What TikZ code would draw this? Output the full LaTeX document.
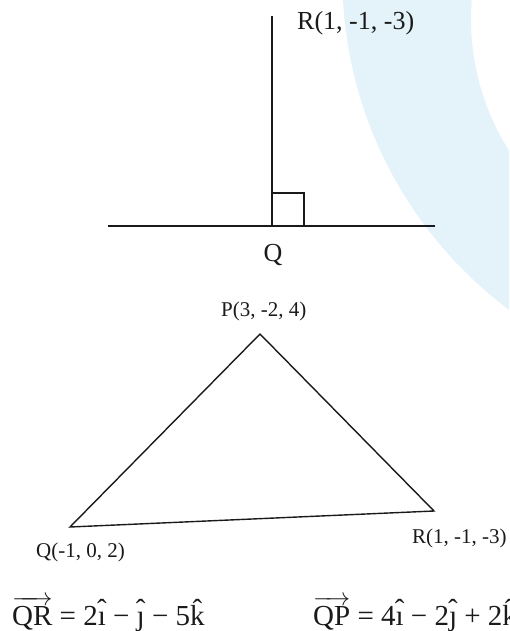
\documentclass[tikz,border=0pt]{standalone}
\usepackage{amsmath}
\usepackage{fontspec}
\setmainfont{Liberation Serif}
\usepackage{tikz}
\usetikzlibrary{positioning}
\definecolor{WashBlue}{HTML}{E4F2FA}
\definecolor{InkBlack}{HTML}{1A1A1A}
% unit vector with a hat at one height
\newcommand{\uvec}[1]{\ooalign{#1\cr\hidewidth\raisebox{0.2em}{ˆ}\hidewidth\cr}}
\newcommand{\vecof}[1]{$\overrightarrow{\text{#1}}$}
\tikzset{
  % Label of the right-angle sketch
  toplbl/.style={inner sep=0pt, font=\fontsize{26}{31}\selectfont, text=InkBlack},
  % Vertex label of the triangle
  vtxlbl/.style={inner sep=0pt, anchor=base west, font=\fontsize{21}{25}\selectfont, text=InkBlack},
  % Vector equation
  eqn/.style={inner sep=0pt, anchor=base west, font=\fontsize{29}{34}\selectfont, text=InkBlack},
  % Thick line of the sketch
  thickln/.style={draw=InkBlack, line width=2.3pt},
  % Triangle side
  sideln/.style={draw=InkBlack, line width=1.4pt, line join=miter}
}

\begin{document}
\begin{tikzpicture}[x=1pt, y=-1pt]
  \useasboundingbox (0,0) rectangle (509,631);

  % pale band in the background
  \begin{scope}
    \clip (0,0) rectangle (509,631);
    \fill[WashBlue, even odd rule] (758,-23) circle[radius=415.6] (718,19) circle[radius=247];
  \end{scope}

  % right angle at Q
  \coordinate (Qt)  at (272,226);
  \coordinate (Rt)  at (272,16);
  \coordinate (lft) at (108,226);
  \coordinate (rgt) at (435,226);
  \draw[thickln] (lft) -- (rgt);
  \draw[thickln] (Qt) -- (Rt);
  \draw[thickln] (Qt) ++(0,-33) -| ++(32,33);
  \node[toplbl, anchor=base west] (rlbl) at (297,30) {R(1, -1, -3)};
  \node[toplbl, anchor=base]      (qlbl) at (273,261) {Q};

  % triangle PQR
  \coordinate (P) at (260,334);
  \coordinate (Q) at (70,527);
  \coordinate (R) at (434,511);
  \draw[sideln] (P) -- (R) -- (Q) -- cycle;
  \node[vtxlbl] (plbl)  at (221,316.5) {P(3, -2, 4)};
  \node[vtxlbl] (qvlbl) at (36,557.5)  {Q(-1, 0, 2)};
  \node[vtxlbl] (rvlbl) at (412,543)   {R(1, -1, -3)};

  % vectors
  \node[eqn] (qr) at (12,625)  {\vecof{QR} = 2\uvec{ı} − \uvec{ȷ} − 5\uvec{k}};
  \node[eqn] (qp) at (313,625) {\vecof{QP} = 4\uvec{ı} − 2\uvec{ȷ} + 2\uvec{k}};
\end{tikzpicture}
\end{document}
